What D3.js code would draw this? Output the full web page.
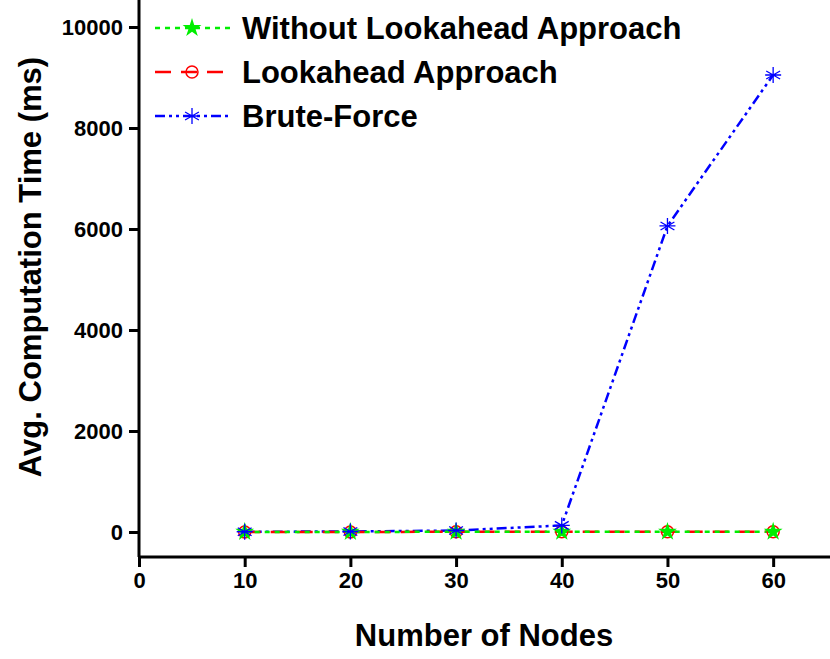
<!DOCTYPE html>
<html><head><meta charset="utf-8">
<script src="https://cdn.jsdelivr.net/npm/d3@7"></script>
<style>body{margin:0;background:#fff} text{font-family:"Liberation Sans",Arial,sans-serif;font-weight:bold}</style>
</head><body><svg id="c" width="830" height="659"></svg>
<script>
const nodes = [10, 20, 30, 40, 50, 60];
const withoutLookahead = [2, 2, 3, 3, 4, 5];
const lookahead = [2, 2, 3, 3, 4, 5];
const bruteForce = [5, 10, 30, 130, 6060, 9050];
const xTicks = [0, 10, 20, 30, 40, 50, 60];
const yTicks = [0, 2000, 4000, 6000, 8000, 10000];

const svg = d3.select("#c");
const x = d3.scaleLinear().domain([0, 65]).range([139, 826]);
const y = d3.scaleLinear().domain([0, 10000]).range([532, 27]);
const y0 = 557;

const xa = svg.append("g").attr("transform", `translate(0,${y0})`)
    .call(d3.axisBottom(x).tickValues(xTicks).tickFormat(d3.format("d")).tickSize(10).tickPadding(5).tickSizeOuter(0));
xa.select(".domain").attr("d", `M139,0H830`);
const ya = svg.append("g").attr("transform", "translate(139,0)")
    .call(d3.axisLeft(y).tickValues(yTicks).tickFormat(d3.format("d")).tickSize(10).tickPadding(6).tickSizeOuter(0));
ya.select(".domain").attr("d", `M0,0V${y0}`);
svg.selectAll(".domain,.tick line").attr("stroke", "#000").attr("stroke-width", 3);
svg.selectAll(".tick text").style("font-size", "22px").attr("fill", "#000");

svg.append("text").attr("x", 484).attr("y", 646).attr("text-anchor", "middle")
    .style("font-size", "31px").text("Number of Nodes");
svg.append("text").attr("transform", "translate(41,267) rotate(-90)").attr("text-anchor", "middle")
    .style("font-size", "31px").text("Avg. Computation Time (ms)");

const series = [
  {name: "Without Lookahead Approach", vals: withoutLookahead, color: "#00ee00", dash: "5,5", mark: "star"},
  {name: "Lookahead Approach", vals: lookahead, color: "#ff0000", dash: "16,10", mark: "circle"},
  {name: "Brute-Force", vals: bruteForce, color: "#0000ff", dash: "10,4,3,4,3,4", mark: "star6"}
];
const line = d3.line().x((d, i) => x(nodes[i])).y(d => y(d));

function marker(g, type, color, cx, cy) {
  if (type === "circle") {
    g.append("circle").attr("cx", cx).attr("cy", cy).attr("r", 6)
      .attr("fill", "none").attr("stroke", color).attr("stroke-width", 1.5);
  } else if (type === "star") {
    g.append("path").attr("d", d3.symbol(d3.symbolStar, 110)()).attr("transform", `translate(${cx},${cy})`)
      .attr("fill", color);
  } else {
    const r = 8;
    let p = "";
    [0, 60, 120].forEach(a => {
      const t = (a + 90) * Math.PI / 180;
      p += `M${cx - r * Math.cos(t)},${cy - r * Math.sin(t)}L${cx + r * Math.cos(t)},${cy + r * Math.sin(t)}`;
    });
    p += `M${cx - r},${cy}L${cx + r},${cy}`;
    g.append("path").attr("d", p).attr("stroke", color).attr("stroke-width", 1.3).attr("fill", "none");
  }
}

series.slice().reverse().forEach(s => {
  svg.append("path").datum(s.vals).attr("d", line).attr("fill", "none")
    .attr("stroke", s.color).attr("stroke-width", 2.5).attr("stroke-dasharray", s.dash);
});
[series[1], series[0], series[2]].forEach(s => {
  const g = svg.append("g");
  s.vals.forEach((v, i) => marker(g, s.mark, s.color, x(nodes[i]), y(v)));
});

// legend
series.forEach((s, i) => {
  const ly = 28 + i * 44;
  svg.append("line").attr("x1", 155).attr("x2", 230).attr("y1", ly).attr("y2", ly)
    .attr("stroke", s.color).attr("stroke-width", 2.5).attr("stroke-dasharray", s.dash);
  marker(svg, s.mark, s.color, 192, ly);
  svg.append("text").attr("x", 242).attr("y", ly + 11).style("font-size", "31px").text(s.name);
});
</script></body></html>
